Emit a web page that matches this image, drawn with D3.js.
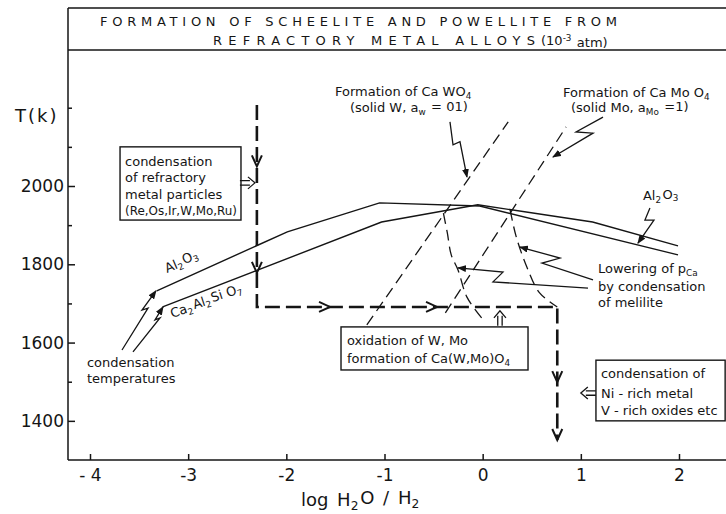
<!DOCTYPE html>
<html>
<head>
<meta charset="utf-8">
<script src="https://cdn.jsdelivr.net/npm/d3@7"></script>
<style>
  body { margin: 0; background: #fff; }
  svg { display: block; }
  text { font-family: "DejaVu Sans", sans-serif; fill: #151515; }
</style>
</head>
<body>
<div id="chart"></div>
<script>
// ---- data (x = log H2O/H2, T = temperature in K) ----
const xTicks = [-4, -3, -2, -1, 0, 1, 2];
const xTickLabels = ['- 4', '-3', '-2', '-1', '0', '1', '2'];
const yTicks = [1400, 1600, 1800, 2000];
const yMinorTicks = [1500, 1700, 1900, 2100, 2200];

const al2o3Curve = [[-3.32, 1732], [-1.99, 1883], [-1.05, 1957], [-0.03, 1949], [1.99, 1824]];
const meliliteCurve = [[-3.26, 1691], [-1.03, 1908], [-0.05, 1952], [1.12, 1908], [1.99, 1847]];
const caWO4Line = [[-1.18, 1645], [0.26, 2164]];
const caMoO4Line = [[-0.38, 1676], [0.85, 2151]];
const wLowering = [[-0.40, 1931], [-0.36, 1880], [-0.32, 1824], [-0.25, 1785], [-0.16, 1716], [-0.01, 1663]];
const moLowering = [[0.28, 1939], [0.34, 1872], [0.45, 1793], [0.58, 1727], [0.76, 1691]];
const coolingPath = [[-2.3, 2207], [-2.3, 1691], [0.76, 1691], [0.76, 1351]];
const pathArrows = [[-2.3, 2050, 'down'], [-2.3, 1778, 'down'], [-1.555, 1691, 'right'],
                    [-0.465, 1691, 'right'], [0.76, 1499, 'down'], [0.76, 1351, 'down']];

// callout zig-zag pointers
const pointers = [
  [[-3.674, 1581], [-3.409, 1688], [-3.470, 1683], [-3.328, 1732]],
  [[-3.562, 1576], [-3.287, 1663], [-3.338, 1658], [-3.256, 1691]],
  [[-0.333, 2164], [-0.302, 2105], [-0.231, 2113], [-0.160, 2023]],
  [[1.226, 2176], [0.951, 2138], [1.124, 2135], [0.716, 2074]],
  [[1.704, 1944], [1.653, 1913], [1.745, 1913], [1.582, 1854]],
  [[1.124, 1760], [0.604, 1803], [0.788, 1816], [0.380, 1844]],
  [[1.073, 1739], [0.105, 1755], [0.207, 1780], [-0.251, 1791]]
];

// labels (text with _{sub})
const labels = [
  {x: -1.504, T: 2230, text: 'Formation of Ca WO_{4}'},
  {x: -1.352, T: 2189, text: '(solid W, a_{w} = 01)'},
  {x: 0.818, T: 2227, text: 'Formation of Ca Mo O_{4}'},
  {x: 0.900, T: 2189, text: '(solid Mo, a_{Mo} =1)'},
  {x: 1.633, T: 1964, text: 'Al_{2}O_{3}'},
  {x: 1.175, T: 1778, text: 'Lowering of p_{Ca}'},
  {x: 1.175, T: 1732, text: 'by condensation'},
  {x: 1.175, T: 1691, text: 'of melilite'},
  {x: -4.031, T: 1538, text: 'condensation'},
  {x: -4.031, T: 1497, text: 'temperatures'},
  {x: -3.216, T: 1778, text: 'Al_{2}O_{3}', rot: -23},
  {x: -3.165, T: 1663, text: 'Ca_{2}Al_{2}Si O_{7}', rot: -18}
];

const boxes = [
  {x0: -3.694, x1: -2.462, T0: 2100, T1: 1913, tx: -3.643,
   lines: [[2051, 'condensation'], [2010, 'of  refractory'], [1967, 'metal  particles'], [1926, '(Re,Os,Ir,W,Mo,Ru)', 112]]},
  {x0: -1.443, x1: 0.462, T0: 1640, T1: 1530, tx: -1.382,
   lines: [[1594, 'oxidation  of  W, Mo'], [1548, 'formation  of  Ca(W,Mo)O_{4}']]},
  {x0: 1.154, x1: 2.47, T0: 1555, T1: 1400, tx: 1.205,
   lines: [[1510, 'condensation  of'], [1458, 'Ni - rich metal'], [1415, 'V - rich oxides etc']]}
];

// hollow double arrows: tip position and direction (degrees, 0 = pointing right)
const openArrows = [
  {x: -2.32, T: 2008, angle: 0},
  {x: 0.176, T: 1681, angle: -90},
  {x: 1.0, T: 1471, angle: 180}
];

// ---- layout ----
const W = 726, H = 514;
const frame = {left: 68, right: 726, top: 8, titleBottom: 50, bottom: 460};

const svg = d3.select('#chart').append('svg')
  .attr('width', W).attr('height', H);

const x = d3.scaleLinear().domain([-4, 2]).range([90, 679]);
const y = d3.scaleLinear().domain([1300, 2000]).range([frame.bottom, 186]);

svg.append('defs').append('marker')
  .attr('id', 'tip')
  .attr('markerUnits', 'userSpaceOnUse')
  .attr('markerWidth', 9).attr('markerHeight', 7)
  .attr('refX', 8).attr('refY', 3.5)
  .attr('orient', 'auto')
  .append('path')
  .attr('d', 'M0,0 L9,3.5 L0,7 Z')
  .attr('fill', '#151515');

function rich(sel, str) {
  const parts = str.split(/(_\{[^}]*\}|\^\{[^}]*\})/).filter(s => s.length);
  parts.forEach(p => {
    if (p.startsWith('_{')) {
      sel.append('tspan').attr('dy', '0.3em').attr('font-size', '0.68em').text(p.slice(2, -1));
      sel.append('tspan').attr('dy', '-0.3em').text('\u200A');
    } else if (p.startsWith('^{')) {
      sel.append('tspan').attr('dy', '-0.5em').attr('font-size', '0.68em').text(p.slice(2, -1));
      sel.append('tspan').attr('dy', '0.5em').text('\u200A');
    } else {
      sel.append('tspan').text(p);
    }
  });
  return sel;
}

// ---- frame and title ----
const ink = '#151515';
svg.append('line').attr('x1', frame.left).attr('x2', frame.right)
  .attr('y1', frame.top).attr('y2', frame.top).attr('stroke', ink).attr('stroke-width', 1.5);
svg.append('line').attr('x1', frame.left).attr('x2', frame.right)
  .attr('y1', frame.titleBottom).attr('y2', frame.titleBottom).attr('stroke', ink).attr('stroke-width', 1.5);
svg.append('line').attr('x1', frame.left).attr('x2', frame.left)
  .attr('y1', frame.top).attr('y2', frame.bottom).attr('stroke', ink).attr('stroke-width', 1.5);
svg.append('line').attr('x1', frame.left).attr('x2', frame.right)
  .attr('y1', frame.bottom).attr('y2', frame.bottom).attr('stroke', ink).attr('stroke-width', 1.5);

svg.append('text').attr('x', 100).attr('y', 26)
  .attr('font-size', 13).attr('textLength', 517).attr('lengthAdjust', 'spacing')
  .text('FORMATION OF SCHEELITE AND POWELLITE FROM');
svg.append('text').attr('x', 213).attr('y', 45)
  .attr('font-size', 13).attr('textLength', 322).attr('lengthAdjust', 'spacing')
  .text('REFRACTORY METAL ALLOYS');
rich(svg.append('text').attr('x', 541).attr('y', 45).attr('font-size', 13), '(10^{-3} atm)');

// ---- axes ----
const xAxis = d3.axisBottom(x).tickValues(xTicks)
  .tickSize(-6).tickPadding(9)
  .tickFormat((d, i) => xTickLabels[i]);
const gx = svg.append('g').attr('transform', `translate(0,${frame.bottom})`).call(xAxis);
gx.select('.domain').remove();
gx.selectAll('line').attr('stroke', ink).attr('stroke-width', 1.5);
gx.selectAll('text').attr('font-size', 17).attr('font-family', '"DejaVu Sans", sans-serif').attr('fill', ink);

const yAxis = d3.axisLeft(y).tickValues(yTicks).tickSize(-7).tickPadding(4).tickFormat(d3.format('d'));
const gy = svg.append('g').attr('transform', `translate(${frame.left},0)`).call(yAxis);
gy.select('.domain').remove();
gy.selectAll('line').attr('stroke', ink).attr('stroke-width', 1.5);
gy.selectAll('text').attr('font-size', 17).attr('font-family', '"DejaVu Sans", sans-serif').attr('fill', ink);

const gyMinor = svg.append('g').attr('transform', `translate(${frame.left},0)`)
  .call(d3.axisLeft(y).tickValues(yMinorTicks).tickSize(-4).tickFormat(''));
gyMinor.select('.domain').remove();
gyMinor.selectAll('line').attr('stroke', ink).attr('stroke-width', 1.5);

svg.append('text').attr('x', 15).attr('y', 122).attr('font-size', 18)
  .attr('letter-spacing', 2).text('T(k)');

rich(svg.append('text').attr('x', 361).attr('y', 506).attr('font-size', 18)
  .attr('text-anchor', 'middle').attr('word-spacing', 3), 'log  H_{2}O / H_{2}');

// ---- curves ----
const line = d3.line().x(d => x(d[0])).y(d => y(d[1]));
const smooth = d3.line().x(d => x(d[0])).y(d => y(d[1])).curve(d3.curveCatmullRom);

[al2o3Curve, meliliteCurve].forEach(c => {
  svg.append('path').datum(c).attr('d', line)
    .attr('fill', 'none').attr('stroke', ink).attr('stroke-width', 1.4);
});

[caWO4Line, caMoO4Line].forEach(c => {
  svg.append('path').datum(c).attr('d', line)
    .attr('fill', 'none').attr('stroke', ink).attr('stroke-width', 1.3)
    .attr('stroke-dasharray', '11,6');
});

[wLowering, moLowering].forEach(c => {
  svg.append('path').datum(c).attr('d', smooth)
    .attr('fill', 'none').attr('stroke', ink).attr('stroke-width', 1.3)
    .attr('stroke-dasharray', '11,6');
});

svg.append('path').datum(coolingPath).attr('d', line)
  .attr('fill', 'none').attr('stroke', ink).attr('stroke-width', 2.6)
  .attr('stroke-dasharray', '15,6');

// chevrons along the cooling path
pathArrows.forEach(([ax, aT, dir]) => {
  const px = x(ax), py = y(aT);
  const d = dir === 'down'
    ? `M${px - 5},${py - 11} L${px},${py} L${px + 5},${py - 11}`
    : `M${px - 11},${py - 5} L${px},${py} L${px - 11},${py + 5}`;
  svg.append('path').attr('d', d).attr('fill', 'none')
    .attr('stroke', ink).attr('stroke-width', 2);
});

// zig-zag pointers
pointers.forEach(p => {
  svg.append('path').datum(p).attr('d', line)
    .attr('fill', 'none').attr('stroke', ink).attr('stroke-width', 1.3)
    .attr('marker-end', 'url(#tip)');
});

// boxes
boxes.forEach(b => {
  svg.append('rect')
    .attr('x', x(b.x0)).attr('y', y(b.T0))
    .attr('width', x(b.x1) - x(b.x0)).attr('height', y(b.T1) - y(b.T0))
    .attr('fill', '#fff').attr('stroke', ink).attr('stroke-width', 1.4);
  b.lines.forEach(([T, t, len]) => {
    const tx = svg.append('text').attr('x', x(b.tx)).attr('y', y(T)).attr('font-size', 13);
    if (len) tx.attr('textLength', len).attr('lengthAdjust', 'spacingAndGlyphs');
    rich(tx, t);
  });
});

// labels
labels.forEach(l => {
  const t = svg.append('text').attr('font-size', 13)
    .attr('transform', `translate(${x(l.x)},${y(l.T)}) rotate(${l.rot || 0})`);
  rich(t, l.text);
});

// hollow double arrows (drawn pointing right, then rotated)
openArrows.forEach(a => {
  svg.append('path')
    .attr('transform', `translate(${x(a.x)},${y(a.T)}) rotate(${a.angle})`)
    .attr('d', 'M-15,-2.2 L-5,-2.2 M-15,2.2 L-5,2.2 M-7,-6 L0,0 L-7,6')
    .attr('fill', 'none').attr('stroke', ink).attr('stroke-width', 1.3);
});
</script>
</body>
</html>
